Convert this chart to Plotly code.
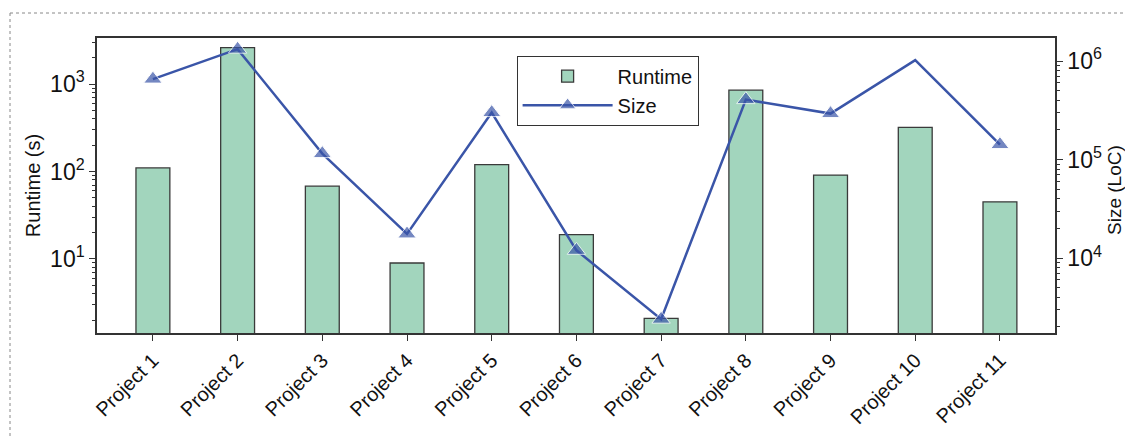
import plotly.graph_objects as go

projects = [f"Project {i}" for i in range(1, 12)]
runtime_s = [110, 2600, 68, 9, 120, 19, 2.1, 850, 91, 320, 45]
size_loc = [656000, 1320000, 115000, 17600, 300000, 12000, 2400, 406000, 293000, 1020000, 142000]
marker_shown = [True, True, True, True, True, True, True, True, True, False, True]

BAR_COLOR = "#a2d5bd"
LINE_COLOR = "#3a55a8"
FONT = "Liberation Sans, Arial, sans-serif"

def minor_vals(lo, hi):
    vals = []
    for e in range(lo, hi):
        for m in range(2, 10):
            vals.append(m * 10 ** e)
    return vals

fig = go.Figure()
fig.add_trace(go.Bar(
    x=projects, y=runtime_s, name="Runtime",
    marker=dict(color=BAR_COLOR, line=dict(color="#3a3a3a", width=1.3)),
    width=0.4, yaxis="y",
))
fig.add_trace(go.Scatter(
    x=projects, y=size_loc, name="Size", mode="lines+markers",
    line=dict(color=LINE_COLOR, width=2.5),
    marker=dict(symbol="triangle-up", size=[16 if s else 0 for s in marker_shown], color=LINE_COLOR),
    yaxis="y2",
))

fig.update_layout(
    width=1125, height=439,
    margin=dict(l=97, r=70, t=38, b=106, autoexpand=False),
    paper_bgcolor="white", plot_bgcolor="white",
    font=dict(family=FONT, size=18, color="#111"),
    showlegend=True,
    legend=dict(
        x=0.438, y=0.94, xanchor="left", yanchor="top",
        bordercolor="#333", borderwidth=1, bgcolor="white",
        font=dict(size=20), itemwidth=90, tracegroupgap=2,
    ),
    xaxis=dict(
        range=[-0.66, 10.65], showline=True, linecolor="#333", linewidth=1.5, mirror=True,
        ticks="outside", ticklen=6, tickcolor="#333", tickangle=-45,
        tickfont=dict(size=20), showgrid=False, automargin=False,
    ),
    yaxis=dict(
        type="log", range=[0.154, 3.526], showline=True, linecolor="#333", linewidth=1.5,
        ticks="outside", ticklen=6, tickcolor="#333",
        tickvals=[10, 100, 1000], ticktext=["10<sup>1</sup>", "10<sup>2</sup>", "10<sup>3</sup>"],
        tickfont=dict(size=23),
        minor=dict(ticks="outside", ticklen=3, tickcolor="#333", showgrid=False,
                   tickvals=minor_vals(0, 4)),
        showgrid=False, zeroline=False, automargin=False,
        title=dict(text="Runtime (s)", font=dict(size=20), standoff=4),
    ),
    yaxis2=dict(
        type="log", range=[3.24, 6.234], overlaying="y", side="right",
        showline=True, linecolor="#333", linewidth=1.5,
        ticks="outside", ticklen=6, tickcolor="#333",
        tickvals=[1e4, 1e5, 1e6], ticktext=["10<sup>4</sup>", "10<sup>5</sup>", "10<sup>6</sup>"],
        tickfont=dict(size=23),
        minor=dict(ticks="outside", ticklen=3, tickcolor="#333", showgrid=False,
                   tickvals=minor_vals(3, 7)),
        showgrid=False, zeroline=False, automargin=False,
    ),
    annotations=[
        dict(text="Size (LoC)", xref="paper", yref="paper", x=1.0627, y=0.485,
             xanchor="center", yanchor="middle", textangle=-90, showarrow=False,
             font=dict(size=19)),
    ],
    shapes=[
        dict(type="line", xref="paper", yref="paper", x0=-0.0908, x1=1.08, y0=1.0847, y1=1.0847,
             line=dict(color="#888", width=1, dash="dot")),
        dict(type="line", xref="paper", yref="paper", x0=-0.0908, x1=-0.0908, y0=1.0847, y1=-0.4,
             line=dict(color="#888", width=1, dash="dot")),
    ],
)

fig.write_html("out.html", config={"displayModeBar": False},
               post_script="document.body.style.margin='0';")
